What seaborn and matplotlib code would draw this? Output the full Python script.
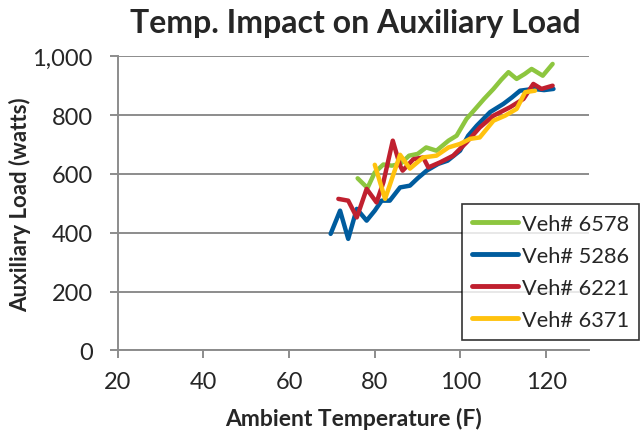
import numpy as np
import pandas as pd
import seaborn as sns
import matplotlib.pyplot as plt
from matplotlib.ticker import FuncFormatter

# values
veh_names = ["Veh# 6578", "Veh# 5286", "Veh# 6221", "Veh# 6371"]

temp_6578 = [76.0, 78.3, 80.0, 82.0, 84.0, 86.0, 88.0, 90.0, 92.0, 94.4, 97.2, 99.1,
             101.4, 103.4, 105.5, 107.7, 109.5, 111.2, 113.1, 115.0, 116.6, 119.2, 121.5]
load_6578 = [585, 552, 605, 632, 628, 634, 662, 668, 690, 679, 713, 730,
             787, 820, 855, 889, 920, 946, 923, 940, 957, 934, 974]

temp_5286 = [69.7, 71.9, 73.8, 75.8, 78.1, 80.0, 81.6, 83.5, 85.9, 88.2, 90.0, 92.1,
             94.8, 97.0, 99.9, 101.8, 103.8, 106.9, 110.0, 112.0, 113.9, 117.0, 119.5, 121.7]
load_5286 = [396, 475, 379, 481, 441, 475, 509, 509, 554, 560, 585, 611,
             634, 645, 679, 730, 764, 810, 838, 860, 883, 889, 885, 889]

temp_6221 = [71.5, 73.8, 75.8, 78.1, 80.4, 82.0, 84.2, 85.9, 86.5, 89.0, 91.3, 92.5,
             95.2, 98.3, 101.4, 104.5, 107.7, 111.6, 114.7, 117.0, 118.9, 121.5]
load_6221 = [515, 509, 452, 549, 503, 571, 713, 628, 611, 650, 656, 622,
             639, 662, 707, 758, 798, 827, 855, 906, 889, 900]

temp_6371 = [80.0, 82.4, 85.9, 88.2, 91.3, 94.4, 97.2, 99.9, 102.2, 104.5, 107.7,
             110.4, 113.1, 115.1, 117.4]
load_6371 = [631, 515, 665, 618, 656, 662, 690, 702, 719, 724, 781,
             798, 821, 878, 883]

colors = ["#8DC63F", "#005C9E", "#C0202F", "#FFC20E"]

temps = [temp_6578, temp_5286, temp_6221, temp_6371]
loads = [load_6578, load_5286, load_6221, load_6371]
frames = []
for name, t, l in zip(veh_names, temps, loads):
    frames.append(pd.DataFrame({"temp": t, "load": l, "veh": name}))
df = pd.concat(frames, ignore_index=True)

sns.set_style("white")
plt.rcParams["font.family"] = ["Lato", "DejaVu Sans"]

fig = plt.figure(figsize=(6.42, 4.35), dpi=100)
ax = fig.add_axes([0.1833, 0.1924, 0.7342, 0.6759])

sns.lineplot(data=df, x="temp", y="load", hue="veh", hue_order=veh_names,
             palette=colors, sort=False, estimator=None, linewidth=3.2,
             ax=ax, legend=True)
for ln in ax.lines:
    ln.set_solid_joinstyle("round")
    ln.set_solid_capstyle("round")

ax.set_xlim(20, 130)
ax.set_ylim(0, 1000)
ax.set_xticks([20, 40, 60, 80, 100, 120])
ax.set_yticks([0, 200, 400, 600, 800, 1000])
ax.yaxis.set_major_formatter(FuncFormatter(lambda v, p: f"{int(v):,}"))
ax.grid(axis="y", color="#8C8C8C", linewidth=1.4)
ax.grid(axis="x", visible=False)
for s in ["top", "right"]:
    ax.spines[s].set_visible(False)
for s in ["left", "bottom"]:
    ax.spines[s].set_color("#8C8C8C")
    ax.spines[s].set_linewidth(1.4)
ax.tick_params(axis="both", which="major", length=6, width=1.4, color="#8C8C8C",
               labelsize=17, direction="out", left=True, bottom=True)
ax.tick_params(axis="y", pad=12)
ax.tick_params(axis="x", pad=9)

ax.set_xlabel("Ambient Temperature (F)", fontsize=16.5, fontweight="bold", labelpad=11)
ax.set_ylabel("Auxiliary Load (watts)", fontsize=16, fontweight="bold", labelpad=1)
fig.text(0.553, 0.945, "Temp. Impact on Auxiliary Load", fontsize=23,
         fontweight="bold", ha="center", va="center")

leg = ax.legend(loc="upper left", bbox_to_anchor=(0.7196, 0.5287), bbox_transform=fig.transFigure,
                frameon=True, fancybox=False, fontsize=15.7, handlelength=2.1,
                handletextpad=0.2, labelspacing=0.55, borderpad=0.45, borderaxespad=0)
leg.get_frame().set_edgecolor("black")
leg.get_frame().set_linewidth(1.2)
for h in leg.get_lines():
    h.set_linewidth(3.5)

fig.savefig("out.png", dpi=100)
